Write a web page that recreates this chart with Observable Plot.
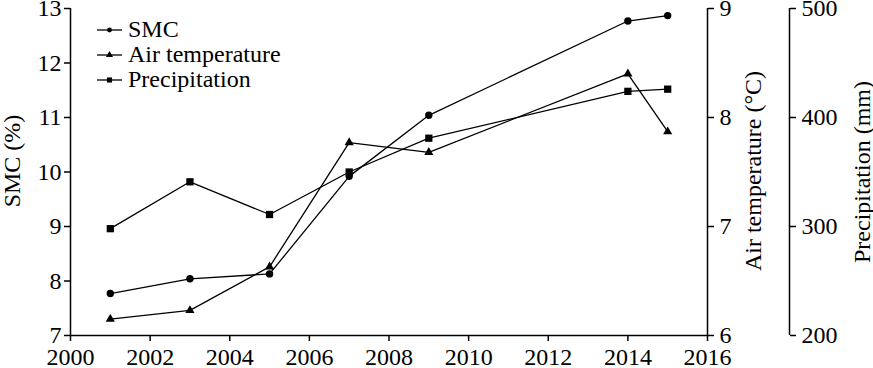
<!DOCTYPE html>
<html><head><meta charset="utf-8">
<script src="https://cdn.jsdelivr.net/npm/d3@7"></script>
<script src="https://cdn.jsdelivr.net/npm/@observablehq/plot@0.6"></script>
<style>
body{margin:0;background:#fff;}
#wrap{position:relative;width:873px;height:368px;}
#wrap svg, #wrap svg text{font-family:"Liberation Serif","Times New Roman",serif;}
#legend{position:absolute;left:0;top:0;}
</style></head><body><div id="wrap"></div>
<script>
// ---- data ----
const years = [2001, 2003, 2005, 2007, 2009, 2014, 2015];
const smc = [7.77, 8.04, 8.13, 9.92, 11.04, 12.77, 12.87];
const airTemp = [6.15, 6.23, 6.63, 7.77, 7.68, 8.40, 7.87];
const precipitation = [298, 341, 311, 350, 381, 424, 426];
const xTicks = [2000, 2002, 2004, 2006, 2008, 2010, 2012, 2014, 2016];
const smcTicks = [7, 8, 9, 10, 11, 12, 13];
const tempTicks = [6, 7, 8, 9];
const precipTicks = [200, 300, 400, 500];
const seriesNames = ["SMC", "Air temperature", "Precipitation"];
const seriesSymbols = ["circle", "triangle", "square"];
const axisTitles = ["SMC (%)", "Air temperature (\u00B0C)", "Precipitation (mm)"];

// secondary axes mapped onto the SMC scale
const tempToY = t => 7 + (t - 6) * 2;
const yToTemp = y => (y - 7) / 2 + 6;
const precipToY = p => 7 + (p - 200) / 50;
const yToPrecip = y => (y - 7) * 50 + 200;

const seriesData = [
  years.map((yr, i) => ({year: yr, y: smc[i]})),
  years.map((yr, i) => ({year: yr, y: tempToY(airTemp[i])})),
  years.map((yr, i) => ({year: yr, y: precipToY(precipitation[i])}))
];
const dotR = [3.7, 3.4, 4.1];

const FONT = '"Liberation Serif", "Times New Roman", serif';
const ink = "#000";

const marks = [
  Plot.ruleX([2000], {stroke: ink, strokeWidth: 1.5}),
  Plot.ruleY([7], {stroke: ink, strokeWidth: 1.5}),
  Plot.ruleX([2016], {stroke: ink, strokeWidth: 1.5}),
  Plot.ruleX([2016], {stroke: ink, strokeWidth: 1.5, dx: 82}),
  Plot.axisX({ticks: xTicks, tickFormat: d => String(d), tickSize: 6, tickPadding: 6, label: null, strokeWidth: 1.5}),
  Plot.axisY({ticks: smcTicks, tickFormat: d => String(d), tickSize: 6, tickPadding: 3, label: null, anchor: "left", strokeWidth: 1.5}),
  Plot.axisY({ticks: tempTicks.map(tempToY), tickFormat: d => String(Math.round(yToTemp(d))), tickSize: 6, tickPadding: 6, label: null, anchor: "right", strokeWidth: 1.5}),
  Plot.axisY({ticks: precipTicks.map(precipToY), tickFormat: d => String(Math.round(yToPrecip(d))), tickSize: 6, tickPadding: 6, label: null, anchor: "right", dx: 82, strokeWidth: 1.5}),
  Plot.text([axisTitles[0]], {frameAnchor: "left", textAnchor: "middle", lineAnchor: "middle", rotate: -90, dx: -58, dy: -11, text: d => d, fill: ink}),
  Plot.text([axisTitles[1]], {frameAnchor: "right", textAnchor: "middle", lineAnchor: "middle", rotate: -90, dx: 46, dy: -1, text: d => d, fill: ink}),
  Plot.text([axisTitles[2]], {frameAnchor: "right", textAnchor: "middle", lineAnchor: "middle", rotate: -90, dx: 155, dy: 0, text: d => d, fill: ink})
];
seriesData.forEach((data, k) => {
  marks.push(Plot.line(data, {x: "year", y: "y", stroke: ink, strokeWidth: 1.3}));
  marks.push(Plot.dot(data, {x: "year", y: "y", symbol: () => seriesSymbols[k], r: dotR[k], fill: ink, stroke: "none"}));
});

const chart = Plot.plot({
  width: 873,
  height: 368,
  marginLeft: 70,
  marginRight: 166,
  marginTop: 8,
  marginBottom: 33,
  style: {fontSize: "24px", fontFamily: FONT, color: ink, background: "#fff", overflow: "visible"},
  x: {domain: [2000, 2016]},
  y: {domain: [7, 13]},
  symbol: {type: "identity"},
  marks
});
const wrap = document.getElementById("wrap");
wrap.appendChild(chart);

// ---- legend ----
const leg = d3.select(wrap).append("svg").attr("id", "legend")
  .attr("width", 300).attr("height", 100)
  .style("font-family", FONT).style("font-size", "24px");
const symMap = {circle: d3.symbolCircle, triangle: d3.symbolTriangle, square: d3.symbolSquare};
const legSizes = [18, 22, 26];
const baselines = [37, 62, 87];
seriesNames.forEach((name, k) => {
  const g = leg.append("g").attr("transform", `translate(0,${baselines[k]})`);
  g.append("line").attr("x1", 97).attr("x2", 122).attr("y1", -7).attr("y2", -7)
    .attr("stroke", ink).attr("stroke-width", 1.3);
  g.append("path").attr("d", d3.symbol(symMap[seriesSymbols[k]], legSizes[k])())
    .attr("transform", "translate(109.5,-7)").attr("fill", ink);
  g.append("text").attr("x", 128).attr("y", 0).attr("fill", ink).text(name);
});
</script></body></html>
